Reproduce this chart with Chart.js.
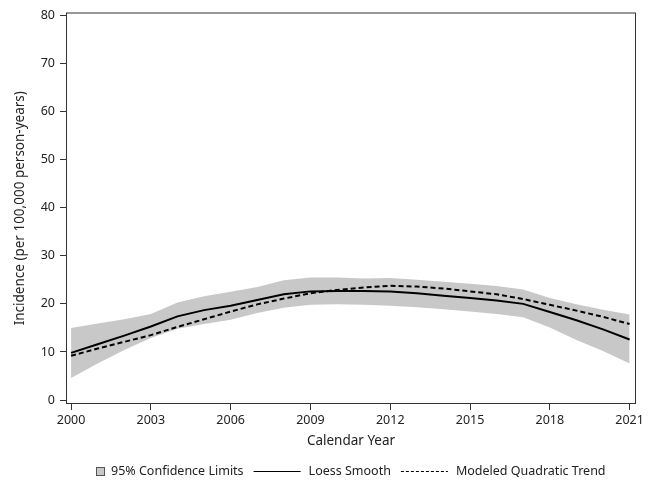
<!DOCTYPE html>
<html lang="en">

<head>
    <meta charset="UTF-8">
    <title>Incidence by Calendar Year</title>
    <script src="https://cdn.jsdelivr.net/npm/chart.js"></script>
    <style>
        body {
            margin: 0;
            background: #ffffff;
        }

        .chart-container {
            width: 652px;
            height: 481px;
        }
    </style>
</head>

<body>
    <div class="chart-container">
        <canvas id="incidenceChart" width="652" height="481"></canvas>
    </div>

    <script>
        // data
        const years = [2000, 2001, 2002, 2003, 2004, 2005, 2006, 2007, 2008, 2009, 2010,
            2011, 2012, 2013, 2014, 2015, 2016, 2017, 2018, 2019, 2020, 2021];
        const loessSmooth = [9.8, 11.6, 13.4, 15.3, 17.4, 18.7, 19.6, 20.8, 22.0, 22.6, 22.7,
            22.7, 22.6, 22.2, 21.7, 21.2, 20.7, 20.0, 18.3, 16.6, 14.7, 12.6];
        const quadraticTrend = [9.2, 10.7, 12.1, 13.5, 15.2, 16.8, 18.4, 19.9, 21.1, 22.2, 22.9,
            23.4, 23.75, 23.6, 23.2, 22.6, 22.0, 21.0, 19.8, 18.6, 17.3, 15.8];
        const upperLimit = [15.0, 15.9, 16.8, 17.9, 20.3, 21.6, 22.5, 23.5, 24.9, 25.5, 25.5,
            25.3, 25.4, 25.0, 24.6, 24.2, 23.7, 23.0, 21.2, 19.9, 18.8, 17.8];
        const lowerLimit = [4.6, 7.6, 10.4, 12.9, 14.8, 15.8, 16.7, 18.1, 19.2, 19.8, 19.9,
            19.8, 19.6, 19.3, 18.9, 18.4, 17.9, 17.2, 15.1, 12.5, 10.2, 7.6];
        const xTicks = [2000, 2003, 2006, 2009, 2012, 2015, 2018, 2021];
        const yTicks = [0, 10, 20, 30, 40, 50, 60, 70, 80];

        const textColor = '#222222';
        const bandColor = '#c8c8c8';
        const fontFamily = '"Noto Sans", sans-serif';

        function toPoints(values) {
            return years.map((yr, i) => ({ x: yr, y: values[i] }));
        }

        // box around the plot area
        const frame = {
            id: 'frame',
            afterDatasetsDraw(chart) {
                const { ctx, chartArea: a } = chart;
                ctx.save();
                ctx.strokeStyle = '#333333';
                ctx.lineWidth = 1;
                ctx.strokeRect(a.left + 0.5, a.top + 0.5, a.right - a.left - 1, a.bottom - a.top - 1);
                ctx.restore();
            }
        };

        // legend below the axis title: box, solid line, dashed line
        const bottomLegend = {
            id: 'bottomLegend',
            afterDraw(chart) {
                const { ctx, chartArea: a } = chart;
                const items = [
                    { label: '95% Confidence Limits', kind: 'box' },
                    { label: 'Loess Smooth', kind: 'line', dash: [] },
                    { label: 'Modeled Quadratic Trend', kind: 'line', dash: [3, 2] }
                ];
                const y = 471;
                ctx.save();
                ctx.font = '12.5px ' + fontFamily;
                let total = 0;
                items.forEach((it, i) => {
                    it.sym = it.kind === 'box' ? 8 : 47;
                    it.gap = it.kind === 'box' ? 7 : 8;
                    it.w = ctx.measureText(it.label).width;
                    total += it.sym + it.gap + it.w + (i < items.length - 1 ? 10 : 0);
                });
                let x = Math.round((a.left + a.right) / 2 - total / 2);
                items.forEach(it => {
                    if (it.kind === 'box') {
                        ctx.fillStyle = bandColor;
                        ctx.fillRect(x, y - 4, 8, 8);
                        ctx.strokeStyle = '#555555';
                        ctx.lineWidth = 1;
                        ctx.strokeRect(x + 0.5, y - 3.5, 8, 8);
                    } else {
                        ctx.strokeStyle = '#000000';
                        ctx.lineWidth = 1.2;
                        ctx.setLineDash(it.dash);
                        ctx.beginPath();
                        ctx.moveTo(x, y + 0.5);
                        ctx.lineTo(x + it.sym, y + 0.5);
                        ctx.stroke();
                        ctx.setLineDash([]);
                    }
                    x += it.sym + it.gap;
                    ctx.fillStyle = textColor;
                    ctx.textBaseline = 'middle';
                    ctx.textAlign = 'left';
                    ctx.fillText(it.label, x, y);
                    x += it.w + 10;
                });
                ctx.restore();
            }
        };

        const ctx = document.getElementById('incidenceChart').getContext('2d');
        const chart = new Chart(ctx, {
            type: 'line',
            data: {
                datasets: [
                    {
                        label: 'Loess Smooth',
                        data: toPoints(loessSmooth),
                        borderColor: '#000000',
                        borderWidth: 2,
                        pointRadius: 0,
                        fill: false,
                        order: 0
                    },
                    {
                        label: 'Modeled Quadratic Trend',
                        data: toPoints(quadraticTrend),
                        borderColor: '#000000',
                        borderWidth: 2,
                        borderDash: [5, 3],
                        pointRadius: 0,
                        fill: false,
                        order: 1
                    },
                    {
                        label: 'Upper Limit',
                        data: toPoints(upperLimit),
                        borderWidth: 0,
                        pointRadius: 0,
                        backgroundColor: bandColor,
                        fill: '+1',
                        order: 2
                    },
                    {
                        label: 'Lower Limit',
                        data: toPoints(lowerLimit),
                        borderWidth: 0,
                        pointRadius: 0,
                        backgroundColor: bandColor,
                        fill: false,
                        order: 3
                    }
                ]
            },
            options: {
                responsive: false,
                animation: false,
                layout: {
                    padding: { left: 0, top: 12, right: 16, bottom: 0 }
                },
                plugins: {
                    legend: { display: false },
                    tooltip: { enabled: false },
                    filler: { drawTime: 'beforeDatasetsDraw' }
                },
                scales: {
                    x: {
                        type: 'linear',
                        min: 1999.81,
                        max: 2021.24,
                        afterBuildTicks: scale => {
                            scale.ticks = xTicks.map(v => ({ value: v }));
                        },
                        afterFit: scale => {
                            scale.height = 77;
                        },
                        border: { display: false },
                        grid: {
                            drawOnChartArea: false,
                            tickLength: 6,
                            tickColor: '#333333'
                        },
                        ticks: {
                            padding: 3,
                            color: textColor,
                            font: { family: fontFamily, size: 12.5 },
                            maxRotation: 0,
                            callback: v => String(v)
                        },
                        title: {
                            display: true,
                            text: 'Calendar Year',
                            color: textColor,
                            font: { family: fontFamily, size: 13.5 },
                            padding: { top: 0, bottom: 32 }
                        }
                    },
                    y: {
                        min: -0.83,
                        max: 80.62,
                        afterBuildTicks: scale => {
                            scale.ticks = yTicks.map(v => ({ value: v }));
                        },
                        afterFit: scale => {
                            scale.width = 66;
                        },
                        border: { display: false },
                        grid: {
                            drawOnChartArea: false,
                            tickLength: 6,
                            tickColor: '#333333'
                        },
                        ticks: {
                            padding: 5,
                            color: textColor,
                            font: { family: fontFamily, size: 12.5 }
                        },
                        title: {
                            display: true,
                            text: 'Incidence (per 100,000 person-years)',
                            color: textColor,
                            font: { family: fontFamily, size: 13.5 },
                            padding: { top: 12, bottom: 0 }
                        }
                    }
                }
            },
            plugins: [frame, bottomLegend]
        });
    </script>
</body>

</html>
